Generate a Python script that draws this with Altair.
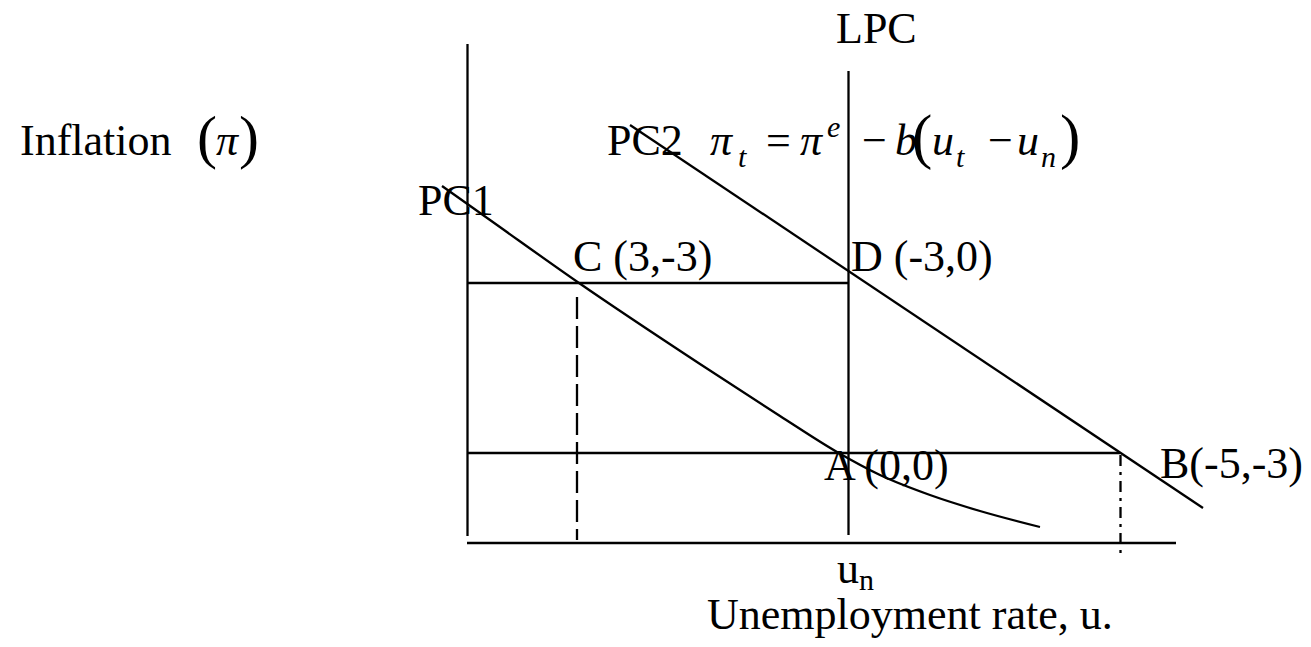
import altair as alt
import pandas as pd

# ---- diagram coordinates (x to the right, y downward, in diagram units) ----
# solid straight segments: axes, LPC, horizontal guides, PC2
seg_names = ["y_axis", "x_axis", "LPC", "C_line", "A_line", "PC2"]
seg_x1 = [467.5, 467.0, 848.5, 467.0, 467.0, 630.0]
seg_y1 = [44.0, 543.0, 71.0, 283.0, 453.0, 125.0]
seg_x2 = [467.5, 1176.0, 848.5, 848.5, 1120.0, 1203.0]
seg_y2 = [536.0, 543.0, 535.0, 283.0, 453.0, 508.0]

# dashed verticals
dash_x = [577.0]
dash_y1 = [297.0]
dash_y2 = [540.0]
dashdot_x = [1120.5]
dashdot_y1 = [455.0]
dashdot_y2 = [555.0]

# PC1 curve
pc1_x = [442.0, 490.0, 579.0, 700.0, 780.0, 837.0, 880.0, 930.0, 980.0, 1040.0]
pc1_y = [186.0, 220.0, 283.0, 364.0, 416.0, 452.0, 475.0, 495.0, 511.0, 527.0]

# upright labels
lab_text = ["Inflation", "(", ")", "LPC", "PC2", "PC1", "C (3,-3)", "D (-3,0)",
            "A (0,0)", "B(-5,-3)", "u", "n", "Unemployment rate, u.",
            "=", "\u2212", "(", "\u2212", ")"]
lab_x = [20, 197, 239, 836, 607, 418, 573, 851,
         824, 1160, 837, 859, 707,
         766, 862, 912, 988, 1060]
lab_y = [155, 157, 157, 43, 155, 215, 271, 271,
         480, 478, 583, 590, 629,
         155, 155, 157, 155, 157]
lab_size = [44, 60, 60, 44, 44, 44, 44, 44,
            44, 44, 44, 30, 44,
            44, 44, 61, 44, 61]

# italic (math) labels
it_text = ["\u03c0", "\u03c0", "t", "\u03c0", "e", "b", "u", "t", "u", "n"]
it_x = [216, 710, 738, 800, 827, 895, 932, 956, 1017, 1041]
it_y = [155, 155, 167, 155, 137, 155, 155, 167, 155, 167]
it_size = [44, 44, 30, 44, 30, 44, 44, 30, 44, 30]

segs = pd.DataFrame({"name": seg_names, "x": seg_x1, "y": seg_y1, "x2": seg_x2, "y2": seg_y2})
dashes = pd.DataFrame({"x": dash_x, "y": dash_y1, "y2": dash_y2})
dashdots = pd.DataFrame({"x": dashdot_x, "y": dashdot_y1, "y2": dashdot_y2})
pc1 = pd.DataFrame({"x": pc1_x, "y": pc1_y})
labs = pd.DataFrame({"t": lab_text, "x": lab_x, "y": lab_y, "s": lab_size})
its = pd.DataFrame({"t": it_text, "x": it_x, "y": it_y, "s": it_size})

W, H = 1295, 631
xs = alt.Scale(domain=[8, 8 + W], zero=False, nice=False)
ys = alt.Scale(domain=[8, 8 + H], zero=False, nice=False, reverse=True)
X = lambda f: alt.X(f, type="quantitative", scale=xs, axis=None)
Y = lambda f: alt.Y(f, type="quantitative", scale=ys, axis=None)

FONT = "Liberation Serif"
SW = 2.3

solid = alt.Chart(segs).mark_rule(color="black", strokeWidth=SW).encode(
    x=X("x"), y=Y("y"), x2="x2", y2="y2")
dash = alt.Chart(dashes).mark_rule(color="black", strokeWidth=SW, strokeDash=[22, 7]).encode(
    x=X("x"), y=Y("y"), y2="y2")
dashdot = alt.Chart(dashdots).mark_rule(color="black", strokeWidth=SW, strokeDash=[11, 6, 3, 6]).encode(
    x=X("x"), y=Y("y"), y2="y2")
curve = alt.Chart(pc1).mark_line(color="black", strokeWidth=SW, interpolate="monotone").encode(
    x=X("x"), y=Y("y"))
text_up = alt.Chart(labs).mark_text(font=FONT, align="left", baseline="alphabetic", color="black").encode(
    x=X("x"), y=Y("y"), text="t:N", size=alt.Size("s:Q", scale=None))
text_it = alt.Chart(its).mark_text(font=FONT, fontStyle="italic", align="left", baseline="alphabetic",
                                   color="black").encode(
    x=X("x"), y=Y("y"), text="t:N", size=alt.Size("s:Q", scale=None))

chart = alt.layer(solid, dash, dashdot, curve, text_up, text_it).properties(
    width=W, height=H, padding=0, autosize=alt.AutoSizeParams(type="none"), background="white"
).configure_view(stroke=None)

chart.save("out.html", embed_options={"renderer": "svg", "actions": False})
